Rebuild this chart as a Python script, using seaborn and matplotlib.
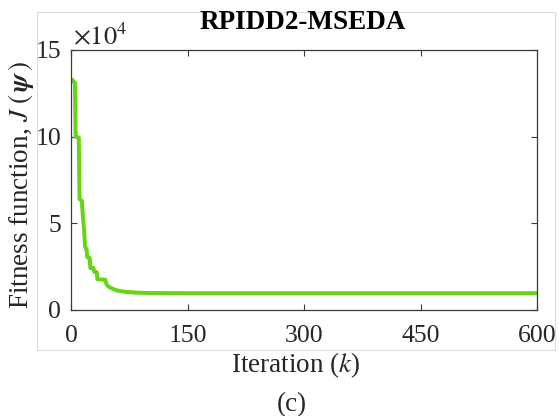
import matplotlib
matplotlib.use("Agg")
import matplotlib.pyplot as plt
import matplotlib.patches as mpatches
import seaborn as sns
import pandas as pd
import numpy as np

# ---- data ----
iterations = [1, 5, 6, 10, 11, 14, 15, 17, 18, 20, 21, 24, 25, 29, 30, 33, 34, 44,
              46, 50, 55, 59, 65, 72, 85, 100, 150, 300, 450, 600]
fitness_1e4 = [13.3, 13.1, 10.0, 9.95, 6.4, 6.3, 5.6, 4.5, 3.65, 3.5, 3.05, 3.0, 2.42, 2.42,
               2.2, 2.18, 1.77, 1.75, 1.45, 1.3, 1.2, 1.13, 1.08, 1.04, 1.0, 0.98, 0.97,
               0.97, 0.97, 0.97]
fitness = [v * 1e4 for v in fitness_1e4]

x_ticks = [0, 150, 300, 450, 600]
y_ticks = [0, 5e4, 10e4, 15e4]
y_ticklabels = ["0", "5", "10", "15"]

title = "RPIDD2-MSEDA"
line_color = "#66d614"

df = pd.DataFrame({"Iteration": iterations, "Fitness": fitness})

sns.set_theme(style="white")
plt.rcParams["font.family"] = ["Liberation Serif", "DejaVu Serif"]
plt.rcParams["mathtext.fontset"] = "stix"

W, H = 559, 416
fig = plt.figure(figsize=(W / 100, H / 100), dpi=100)
ax = fig.add_axes([71 / W, 1 - 310 / H, (537 - 71) / W, (310 - 50) / H])

sns.lineplot(data=df, x="Iteration", y="Fitness", ax=ax, color=line_color,
             linewidth=2.9, estimator=None, sort=False)

ax.set_xlim(0, 600)
ax.set_ylim(0, 15e4)
ax.set_xticks(x_ticks)
ax.set_xticklabels([str(t) for t in x_ticks])
ax.set_yticks(y_ticks)
ax.set_yticklabels(y_ticklabels)
ax.set_xlabel("")
ax.set_ylabel("")

spine_c = "#3a3a3a"
for s in ax.spines.values():
    s.set_visible(True)
    s.set_color(spine_c)
    s.set_linewidth(0.9)

ax.tick_params(axis="both", which="both", direction="in", length=4, width=0.8,
               color=spine_c, top=True, right=True, bottom=True, left=True,
               labelsize=18.5, labelcolor="#262626")
ax.tick_params(axis="x", pad=11)
ax.tick_params(axis="y", pad=7)

# exponent label
fig.text(73 / W, 1 - 44 / H, r"$\times 10^4$", fontsize=19, color="#262626",
         ha="left", va="baseline")

# title
fig.text(303 / W, 1 - 29 / H, title, fontsize=19.5, fontweight="bold",
         ha="center", va="baseline", color="black")

# y label
fig.text(21 / W, 1 - 185 / H, r"Fitness function, $J\;(\,\boldsymbol{\psi}\,)$",
         rotation=90, fontsize=19.5, ha="center", va="center", color="#262626")

# x label
fig.text(296 / W, 1 - 365 / H, r"Iteration ($k$)", fontsize=19.5,
         ha="center", va="center", color="#262626")

# subfigure caption
fig.text(292 / W, 1 - 405 / H, "(c)", fontsize=19.5, ha="center", va="center",
         color="#262626")

# light outer frame
frame = mpatches.Rectangle((37 / W, 1 - 350 / H), (555 - 37) / W, (350 - 12) / H,
                           transform=fig.transFigure, fill=False,
                           edgecolor="#dcdcdc", linewidth=0.8, zorder=-1)
fig.patches.append(frame)

fig.savefig("out.png", dpi=100)
